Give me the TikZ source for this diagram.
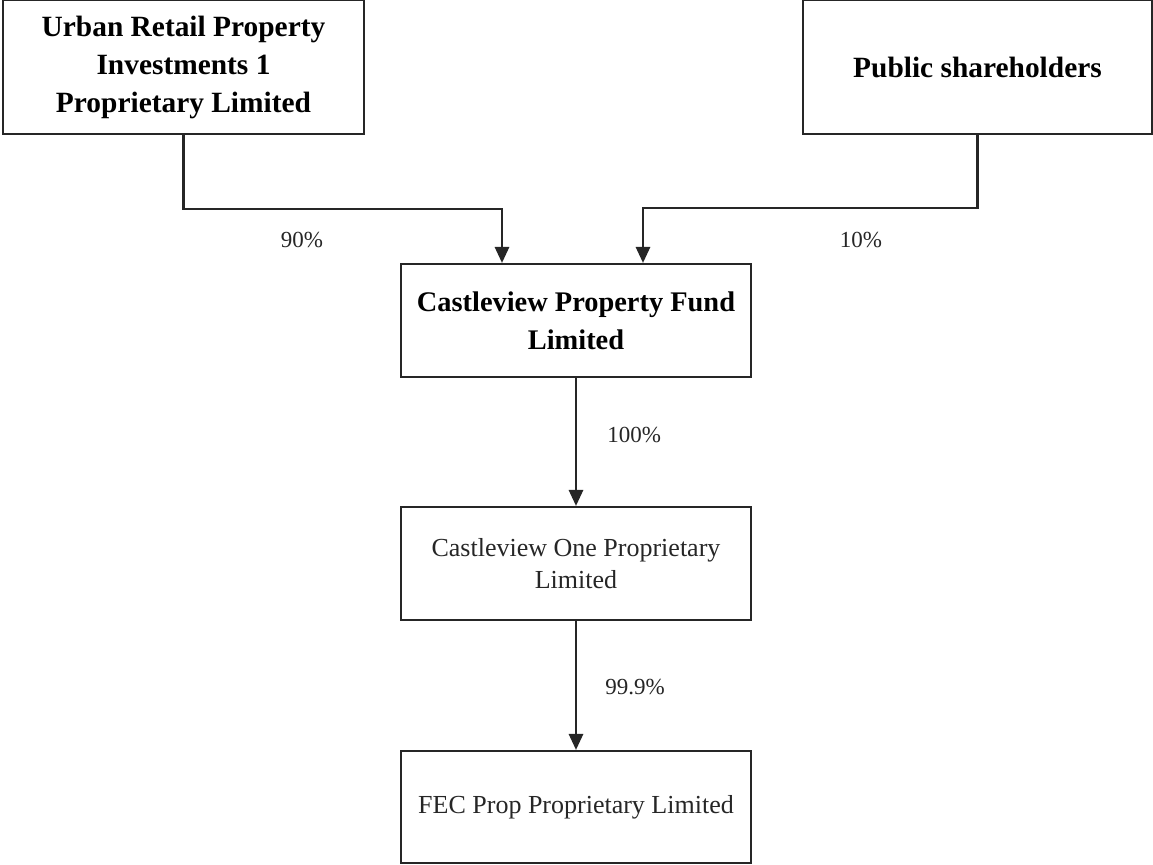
\documentclass[tikz,border=0pt]{standalone}
\usepackage{fontspec}
\setmainfont{Liberation Serif}
\usepackage{xcolor}
\usetikzlibrary{arrows.meta}

\begin{document}
\begin{tikzpicture}[x=0.5pt, y=-0.5pt, align=center]
            \tikzstyle{every node}+=[inner sep=0pt]
            \tikzstyle{entity}=[draw=black!85, line width=1pt, rectangle, minimum width=175pt]
            \tikzstyle{owns}=[draw=black!85, line width=1.4pt, -{Triangle[length=8pt,width=7pt]}]
            \tikzstyle{pct}=[font=\fontsize{11.5}{14}\selectfont, text=black!85]
            \useasboundingbox (0,0) rectangle (1153,865);
            % top level
            \node [entity, minimum width=180.5pt, minimum height=67pt, font=\fontsize{14.7}{19}\selectfont\bfseries] (urban) at (183.5,67) {Urban Retail Property\\Investments 1\\Proprietary Limited};
            \node [entity, minimum width=174.5pt, minimum height=67pt, font=\fontsize{14.7}{19}\selectfont\bfseries] (public) at (977.5,67) {Public shareholders};
            % fund
            \node [entity, minimum height=56.5pt, font=\fontsize{14.2}{19}\selectfont\bfseries] (fund) at (576,320.5) {Castleview Property Fund\\Limited};
            \node [entity, minimum height=56.5pt, font=\fontsize{13}{16}\selectfont, text=black!85] (one) at (576,563.5) {Castleview One Proprietary\\Limited};
            \node [entity, minimum height=56pt, font=\fontsize{13}{16}\selectfont, text=black!85] (fec) at (576,807) {FEC Prop Proprietary Limited};
            % ownership
            \draw [owns] (urban.south) -- ++(0,74) -| ([xshift=-37pt]fund.north);
            \node [pct] (p90) at (302,240) {90\%};
            \draw [owns] (public.south) -- ++(0,73) -| ([xshift=33.5pt]fund.north);
            \node [pct] (p10) at (861,240) {10\%};
            \draw [owns] (fund) -- (one);
            \node [pct, anchor=west] (p100) at (607,435) {100\%};
            \draw [owns] (one) -- (fec);
            \node [pct, anchor=west] (p999) at (605,687) {99.9\%};
        \end{tikzpicture}
\end{document}
